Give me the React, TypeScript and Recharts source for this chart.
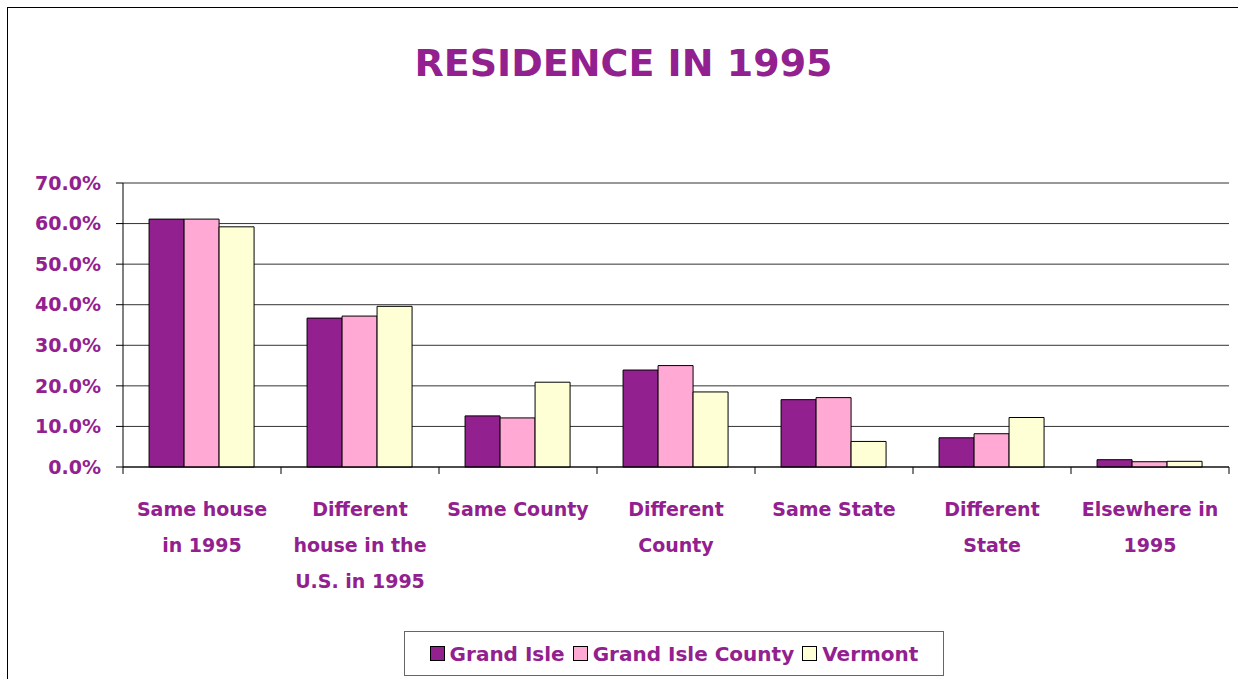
import React from 'react';
import { BarChart, Bar, XAxis, YAxis, CartesianGrid, Legend } from 'recharts';

const categories = [
  'Same house\nin 1995',
  'Different\nhouse in the\nU.S. in 1995',
  'Same County',
  'Different\nCounty',
  'Same State',
  'Different\nState',
  'Elsewhere in\n1995',
];
const grandIsle = [61.1, 36.7, 12.6, 23.9, 16.6, 7.2, 1.8];
const grandIsleCounty = [61.1, 37.2, 12.1, 25.0, 17.1, 8.2, 1.3];
const vermont = [59.2, 39.6, 20.9, 18.5, 6.3, 12.2, 1.4];
const yTicks = [0, 10, 20, 30, 40, 50, 60, 70];

const PURPLE = '#93208f';
const PINK = '#ffa9d4';
const CREAM = '#ffffd6';
const FONT = '"Comic Sans MS", "DejaVu Sans", sans-serif';

const data = categories.map((c, i) => ({
  name: c,
  'Grand Isle': grandIsle[i],
  'Grand Isle County': grandIsleCounty[i],
  Vermont: vermont[i],
}));

const W = 1231;
const H = 672;
const M = { top: 175, right: 10, left: 0, bottom: 28 };
const Y_W = 115;
const halfBand = (W - M.left - M.right - Y_W) / categories.length / 2;

const CatTick = (props: any) => {
  const { x, y, payload, index } = props;
  const lines = String(payload.value).split('\n');
  return (
    <g>
      <line x1={x - halfBand} x2={x - halfBand} y1={y} y2={y + 7} stroke="#000" />
      {index === categories.length - 1 && (
        <line x1={x + halfBand} x2={x + halfBand} y1={y} y2={y + 7} stroke="#000" />
      )}
      <text x={x} y={y} textAnchor="middle" fill={PURPLE} fontFamily={FONT} fontWeight="bold" fontSize={19}>
        {lines.map((l, i) => (
          <tspan key={i} x={x} y={y + 49 + i * 36}>
            {l}
          </tspan>
        ))}
      </text>
    </g>
  );
};

const legendItems = [
  { label: 'Grand Isle', color: PURPLE },
  { label: 'Grand Isle County', color: PINK },
  { label: 'Vermont', color: CREAM },
];

const LegendBox = () => (
  <div
    style={{
      display: 'flex',
      alignItems: 'center',
      justifyContent: 'center',
      gap: 8,
      border: '1px solid #666',
      height: 45,
      boxSizing: 'border-box',
      fontFamily: FONT,
      fontWeight: 'bold',
      fontSize: 20,
      color: PURPLE,
      background: '#fff',
    }}
  >
    {legendItems.map((it) => (
      <span key={it.label} style={{ display: 'flex', alignItems: 'center', gap: 5 }}>
        <span
          style={{
            display: 'inline-block',
            width: 13,
            height: 13,
            background: it.color,
            border: '1px solid #000',
          }}
        />
        {it.label}
      </span>
    ))}
  </div>
);

export default function App() {
  return (
    <div
      style={{
        position: 'absolute',
        left: 7,
        top: 7,
        width: W,
        height: H,
        border: '1px solid #000',
        background: '#fff',
      }}
    >
      <div
        style={{
          position: 'absolute',
          left: 0,
          width: W,
          top: 33,
          textAlign: 'center',
          fontFamily: FONT,
          fontWeight: 'bold',
          fontSize: 38,
          color: PURPLE,
        }}
      >
        RESIDENCE IN 1995
      </div>
      <BarChart width={W} height={H} data={data} margin={M} barGap={0} barCategoryGap="16.5%">
        <CartesianGrid vertical={false} stroke="#333" />
        <XAxis
          dataKey="name"
          interval={0}
          axisLine={{ stroke: '#000' }}
          tickLine={false}
          tickSize={0}
          tickMargin={0}
          height={140}
          tick={<CatTick />}
        />
        <YAxis
          width={Y_W}
          domain={[0, 70]}
          ticks={yTicks}
          interval={0}
          axisLine={{ stroke: '#000' }}
          tickLine={{ stroke: '#000' }}
          tickSize={7}
          tickMargin={15}
          tickFormatter={(v: number) => v.toFixed(1) + '%'}
          tick={{ fill: PURPLE, fontFamily: FONT, fontWeight: 'bold', fontSize: 19 }}
        />
        <Legend
          content={<LegendBox />}
          wrapperStyle={{ position: 'absolute', left: 396, top: 623, width: 540, height: 45 }}
        />
        <Bar dataKey="Grand Isle" fill={PURPLE} stroke="#000" isAnimationActive={false} />
        <Bar dataKey="Grand Isle County" fill={PINK} stroke="#000" isAnimationActive={false} />
        <Bar dataKey="Vermont" fill={CREAM} stroke="#000" isAnimationActive={false} />
      </BarChart>
    </div>
  );
}
